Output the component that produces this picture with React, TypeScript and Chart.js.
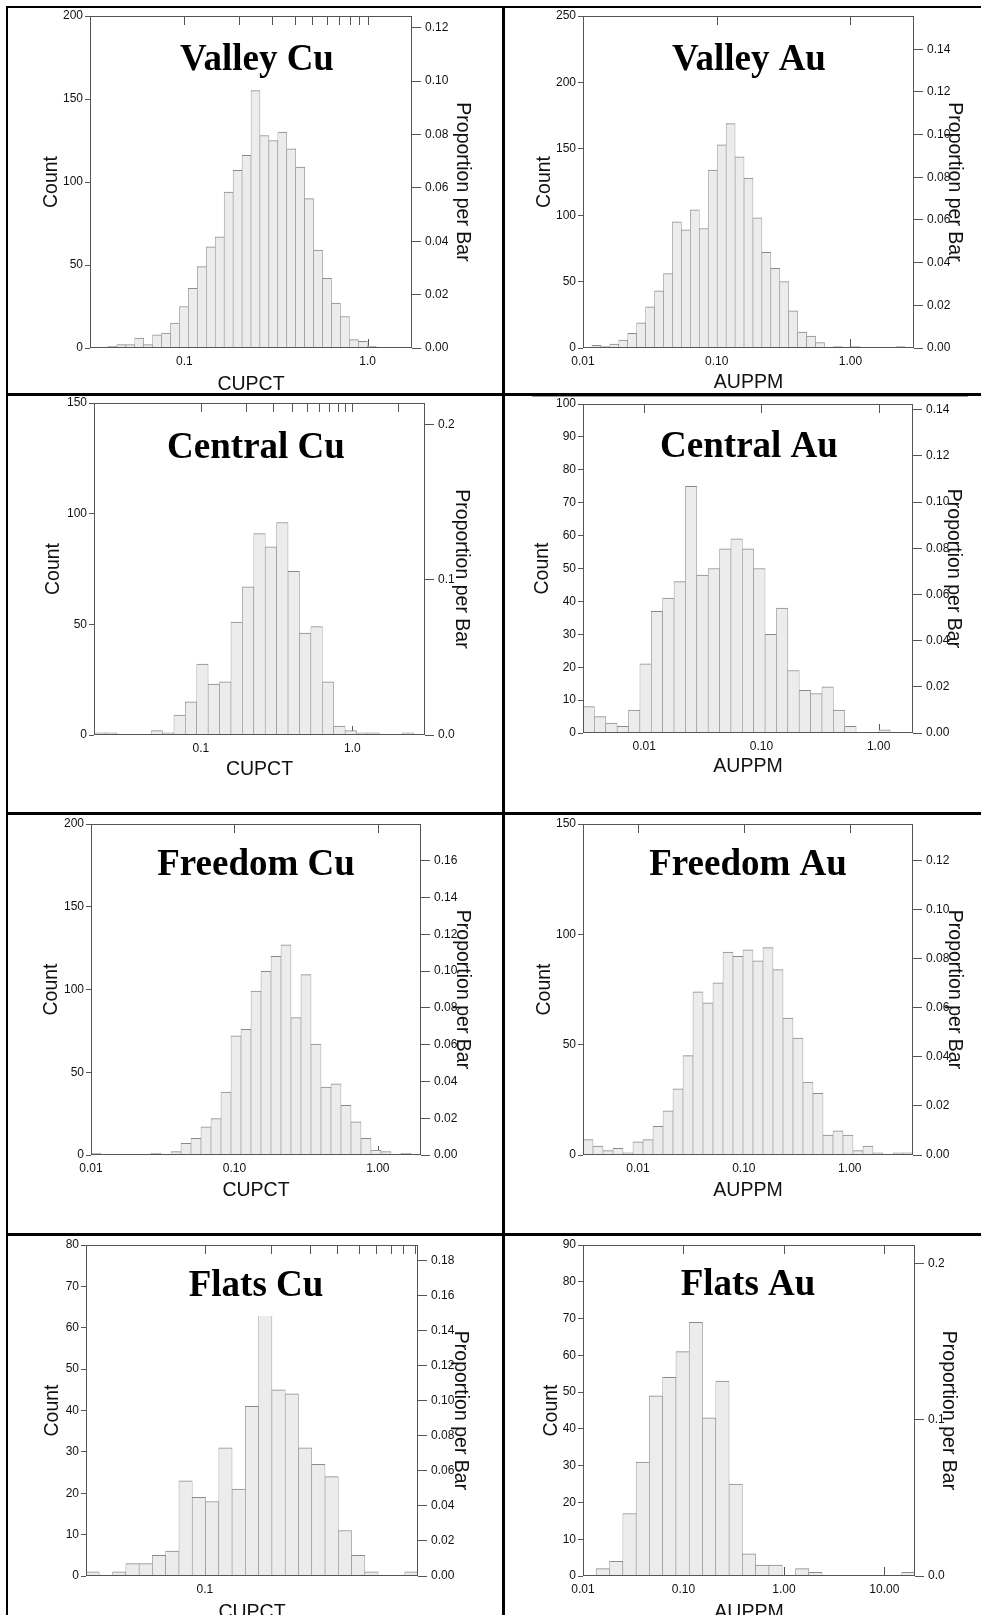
import React, { useEffect, useRef } from 'react';
import { Chart, registerables } from 'chart.js';

Chart.register(...registerables);

// ---------------- data ----------------
// Valley Cu
const valleyCuCounts = [0, 0, 1, 2, 2, 6, 2, 8, 9, 15, 25, 36, 49, 61, 67, 94, 107, 116, 155, 128, 125, 130, 120, 109, 90, 59, 42, 27, 19, 5, 4, 1, 0, 0, 0, 0];
const valleyCuRange = [0.0306, 1.745];
const valleyCuCountTicks = [0, 50, 100, 150, 200];
const valleyCuPropTicks = [0, 0.02, 0.04, 0.06, 0.08, 0.1, 0.12];
const valleyCuPropMax = 0.1244;
const valleyCuXTicks = [0.1, 1];
const valleyCuXLabels = ['0.1', '1.0'];
const valleyCuTopTicks = [0.1, 0.2, 0.3, 0.4, 0.5, 0.6, 0.7, 0.8, 0.9, 1];

// Valley Au
const valleyAuCounts = [0, 2, 1, 3, 6, 11, 19, 31, 43, 56, 95, 89, 104, 90, 134, 153, 169, 144, 128, 98, 72, 60, 50, 28, 12, 9, 4, 0, 1, 0, 1, 0, 0, 0, 0, 1, 0];
const valleyAuRange = [0.01, 2.99];
const valleyAuCountTicks = [0, 50, 100, 150, 200, 250];
const valleyAuPropTicks = [0, 0.02, 0.04, 0.06, 0.08, 0.1, 0.12, 0.14];
const valleyAuPropMax = 0.1556;
const valleyAuXTicks = [0.01, 0.1, 1];
const valleyAuXLabels = ['0.01', '0.10', '1.00'];
const valleyAuTopTicks = [0.1, 1];

// Central Cu
const centralCuCounts = [1, 1, 0, 0, 0, 2, 1, 9, 15, 32, 23, 24, 51, 67, 91, 85, 96, 74, 46, 49, 24, 4, 2, 1, 1, 0, 0, 1, 0];
const centralCuRange = [0.0197, 3.02];
const centralCuCountTicks = [0, 50, 100, 150];
const centralCuPropTicks = [0, 0.1, 0.2];
const centralCuPropMax = 0.214;
const centralCuXTicks = [0.1, 1];
const centralCuXLabels = ['0.1', '1.0'];
const centralCuTopTicks = [0.1, 0.2, 0.3, 0.4, 0.5, 0.6, 0.7, 0.8, 0.9, 1, 2];

// Central Au
const centralAuCounts = [8, 5, 3, 2, 7, 21, 37, 41, 46, 75, 48, 50, 56, 59, 56, 50, 30, 38, 19, 13, 12, 14, 7, 2, 0, 0, 1, 0, 0];
const centralAuRange = [0.003, 1.965];
const centralAuCountTicks = [0, 10, 20, 30, 40, 50, 60, 70, 80, 90, 100];
const centralAuPropTicks = [0, 0.02, 0.04, 0.06, 0.08, 0.1, 0.12, 0.14];
const centralAuPropMax = 0.1425;
const centralAuXTicks = [0.01, 0.1, 1];
const centralAuXLabels = ['0.01', '0.10', '1.00'];
const centralAuTopTicks = [0.01, 0.1, 1];

// Freedom Cu
const freedomCuCounts = [1, 0, 0, 0, 0, 0, 1, 0, 2, 7, 10, 17, 22, 38, 72, 76, 99, 111, 120, 127, 83, 109, 67, 41, 43, 30, 20, 10, 3, 2, 0, 1, 0];
const freedomCuRange = [0.01, 2.0];
const freedomCuCountTicks = [0, 50, 100, 150, 200];
const freedomCuPropTicks = [0, 0.02, 0.04, 0.06, 0.08, 0.1, 0.12, 0.14, 0.16];
const freedomCuPropMax = 0.18;
const freedomCuXTicks = [0.01, 0.1, 1];
const freedomCuXLabels = ['0.01', '0.10', '1.00'];
const freedomCuTopTicks = [0.1, 1];

// Freedom Au
const freedomAuCounts = [7, 4, 2, 3, 1, 6, 7, 13, 20, 30, 45, 74, 69, 78, 92, 90, 93, 88, 94, 84, 62, 53, 33, 28, 9, 11, 9, 2, 4, 1, 0, 1, 1];
const freedomAuRange = [0.00303, 3.95];
const freedomAuCountTicks = [0, 50, 100, 150];
const freedomAuPropTicks = [0, 0.02, 0.04, 0.06, 0.08, 0.1, 0.12];
const freedomAuPropMax = 0.135;
const freedomAuXTicks = [0.01, 0.1, 1];
const freedomAuXLabels = ['0.01', '0.10', '1.00'];
const freedomAuTopTicks = [0.01, 0.1, 1];

// Flats Cu
const flatsCuCounts = [1, 0, 1, 3, 3, 5, 6, 23, 19, 18, 31, 21, 41, 66, 45, 44, 31, 27, 24, 11, 5, 1, 0, 0, 1];
const flatsCuRange = [0.0288, 0.932];
const flatsCuCountTicks = [0, 10, 20, 30, 40, 50, 60, 70, 80];
const flatsCuPropTicks = [0, 0.02, 0.04, 0.06, 0.08, 0.1, 0.12, 0.14, 0.16, 0.18];
const flatsCuPropMax = 0.189;
const flatsCuXTicks = [0.1];
const flatsCuXLabels = ['0.1'];
const flatsCuTopTicks = [0.1, 0.2, 0.3, 0.4, 0.5, 0.6, 0.7, 0.8, 0.9];

// Flats Au
const flatsAuCounts = [0, 2, 4, 17, 31, 49, 54, 61, 69, 43, 53, 25, 6, 3, 3, 0, 2, 1, 0, 0, 0, 0, 0, 0, 1];
const flatsAuRange = [0.01, 20.2];
const flatsAuCountTicks = [0, 10, 20, 30, 40, 50, 60, 70, 80, 90];
const flatsAuPropTicks = [0, 0.1, 0.2];
const flatsAuPropMax = 0.2117;
const flatsAuXTicks = [0.01, 0.1, 1, 10];
const flatsAuXLabels = ['0.01', '0.10', '1.00', '10.00'];
const flatsAuTopTicks = [0.1, 1, 10];

// ---------------- styles ----------------
const SANS = '"Liberation Sans", Arial, Helvetica, sans-serif';
const SERIF = '"Liberation Serif", "Times New Roman", serif';
const FRAME = '#555555';
const TEXT = '#111111';
const BAR_FILL = '#ececec';
const BAR_EDGE = '#8a8a8a';
const TICK_SIZE = 12;
const AXIS_TITLE_SIZE = 19.5;

type PanelCfg = {
  id: string;
  title: string;
  xTitle: string;
  counts: number[];
  range: number[];
  countTicks: number[];
  propTicks: number[];
  propMax: number;
  propDec: number;
  xTicks: number[];
  xLabels: string[];
  topTicks: number[];
  cell: number[]; // x, y, w, h
  box: number[]; // left axis w, right axis w, top pad, bottom axis h
  countX: number;
  propX: number;
  xTitleD: number;
  titlePos: number[];
  cover: boolean;
};

const panels: PanelCfg[] = [
  { id: 'vcu', title: 'Valley Cu', xTitle: 'CUPCT', counts: valleyCuCounts, range: valleyCuRange, countTicks: valleyCuCountTicks, propTicks: valleyCuPropTicks, propMax: valleyCuPropMax, propDec: 2, xTicks: valleyCuXTicks, xLabels: valleyCuXLabels, topTicks: valleyCuTopTicks,
    cell: [8, 8, 494, 385], box: [82, 90, 8, 45], countX: 44, propX: 40, xTitleD: 8.5, titlePos: [249, 62], cover: false },
  { id: 'vau', title: 'Valley Au', xTitle: 'AUPPM', counts: valleyAuCounts, range: valleyAuRange, countTicks: valleyAuCountTicks, propTicks: valleyAuPropTicks, propMax: valleyAuPropMax, propDec: 2, xTicks: valleyAuXTicks, xLabels: valleyAuXLabels, topTicks: valleyAuTopTicks,
    cell: [505, 8, 476, 385], box: [78, 67, 8, 45], countX: 40, propX: 27, xTitleD: 10.5, titlePos: [244, 62], cover: false },
  { id: 'ccu', title: 'Central Cu', xTitle: 'CUPCT', counts: centralCuCounts, range: centralCuRange, countTicks: centralCuCountTicks, propTicks: centralCuPropTicks, propMax: centralCuPropMax, propDec: 1, xTicks: centralCuXTicks, xLabels: centralCuXLabels, topTicks: centralCuTopTicks,
    cell: [8, 396, 494, 416], box: [86, 77, 7, 77], countX: 46, propX: 41, xTitleD: 42, titlePos: [248, 62], cover: false },
  { id: 'cau', title: 'Central Au', xTitle: 'AUPPM', counts: centralAuCounts, range: centralAuRange, countTicks: centralAuCountTicks, propTicks: centralAuPropTicks, propMax: centralAuPropMax, propDec: 2, xTicks: centralAuXTicks, xLabels: centralAuXLabels, topTicks: centralAuTopTicks,
    cell: [505, 396, 476, 416], box: [78, 68, 8, 79], countX: 38, propX: 28, xTitleD: 45, titlePos: [244, 61], cover: false },
  { id: 'fcu', title: 'Freedom Cu', xTitle: 'CUPCT', counts: freedomCuCounts, range: freedomCuRange, countTicks: freedomCuCountTicks, propTicks: freedomCuPropTicks, propMax: freedomCuPropMax, propDec: 2, xTicks: freedomCuXTicks, xLabels: freedomCuXLabels, topTicks: freedomCuTopTicks,
    cell: [8, 815, 494, 418], box: [83, 81, 9, 78], countX: 44, propX: 40, xTitleD: 42, titlePos: [248, 60], cover: false },
  { id: 'fau', title: 'Freedom Au', xTitle: 'AUPPM', counts: freedomAuCounts, range: freedomAuRange, countTicks: freedomAuCountTicks, propTicks: freedomAuPropTicks, propMax: freedomAuPropMax, propDec: 2, xTicks: freedomAuXTicks, xLabels: freedomAuXLabels, topTicks: freedomAuTopTicks,
    cell: [505, 815, 476, 418], box: [78, 68, 9, 78], countX: 40, propX: 27, xTitleD: 42, titlePos: [243, 60], cover: false },
  { id: 'flcu', title: 'Flats Cu', xTitle: 'CUPCT', counts: flatsCuCounts, range: flatsCuRange, countTicks: flatsCuCountTicks, propTicks: flatsCuPropTicks, propMax: flatsCuPropMax, propDec: 2, xTicks: flatsCuXTicks, xLabels: flatsCuXLabels, topTicks: flatsCuTopTicks,
    cell: [8, 1236, 494, 420], box: [78, 84, 9, 80], countX: 45, propX: 42, xTitleD: 43.5, titlePos: [248, 60], cover: true },
  { id: 'flau', title: 'Flats Au', xTitle: 'AUPPM', counts: flatsAuCounts, range: flatsAuRange, countTicks: flatsAuCountTicks, propTicks: flatsAuPropTicks, propMax: flatsAuPropMax, propDec: 1, xTicks: flatsAuXTicks, xLabels: flatsAuXLabels, topTicks: flatsAuTopTicks,
    cell: [505, 1236, 476, 420], box: [78, 66, 9, 80], countX: 47, propX: 33, xTitleD: 43, titlePos: [243, 59], cover: false },
];

// ---------------- plugin: frame, inward ticks, panel title ----------------
const decoPlugin = {
  id: 'panelDeco',
  beforeDatasetsDraw(chart: any, _args: any, o: any) {
    const { ctx, chartArea: a } = chart;
    const s = chart.scales.xb;
    ctx.save();
    ctx.strokeStyle = FRAME;
    ctx.lineWidth = 1;
    ctx.beginPath();
    for (const v of o.bottomTicks) {
      const x = Math.round(s.getPixelForValue(v)) + 0.5;
      ctx.moveTo(x, a.bottom);
      ctx.lineTo(x, a.bottom - 9);
    }
    ctx.stroke();
    ctx.restore();
  },
  afterDatasetsDraw(chart: any, _args: any, o: any) {
    const { ctx, chartArea: a } = chart;
    const s = chart.scales.xb;
    ctx.save();
    ctx.font = `bold 37px ${SERIF}`;
    const w = ctx.measureText(o.title).width;
    if (o.cover) {
      ctx.fillStyle = '#ffffff';
      ctx.fillRect(o.titleX - w / 2 - 8, o.titleY - 36, w + 16, 56);
    }
    ctx.fillStyle = '#000000';
    ctx.textAlign = 'center';
    ctx.textBaseline = 'alphabetic';
    ctx.fillText(o.title, o.titleX, o.titleY);

    ctx.strokeStyle = FRAME;
    ctx.lineWidth = 1;
    ctx.strokeRect(a.left + 0.5, a.top + 0.5, a.right - a.left - 1, a.bottom - a.top - 1);
    ctx.beginPath();
    for (const v of o.topTicks) {
      const x = Math.round(s.getPixelForValue(v)) + 0.5;
      ctx.moveTo(x, a.top);
      ctx.lineTo(x, a.top + 9);
    }
    ctx.stroke();
    ctx.restore();
  },
};

function makeConfig(p: PanelCfg): any {
  const [L, R, T, B] = p.box;
  const lh = AXIS_TITLE_SIZE * 1.2;
  const tickFont = { family: SANS, size: TICK_SIZE };
  const titleFont = { family: SANS, size: AXIS_TITLE_SIZE };
  const fixW = (w: number) => (sc: any) => {
    sc.width = w;
    sc.paddingTop = 0; sc.paddingBottom = 0; sc.paddingLeft = 0; sc.paddingRight = 0;
  };
  const fixH = (h: number) => (sc: any) => {
    sc.height = h;
    sc.paddingTop = 0; sc.paddingBottom = 0; sc.paddingLeft = 0; sc.paddingRight = 0;
  };
  return {
    type: 'bar',
    data: {
      labels: p.counts.map((_, i) => `${i + 1}`),
      datasets: [
        {
          data: p.counts,
          backgroundColor: BAR_FILL,
          borderColor: BAR_EDGE,
          borderWidth: { top: 1, left: 0.6, right: 0.6, bottom: 0 },
          borderSkipped: false,
          barPercentage: 1,
          categoryPercentage: 1,
          xAxisID: 'x',
          yAxisID: 'y',
        },
      ],
    },
    options: {
      animation: false,
      responsive: false,
      maintainAspectRatio: false,
      events: [],
      layout: { padding: { top: T, left: 0, right: 0, bottom: 0 } },
      plugins: {
        legend: { display: false },
        tooltip: { enabled: false },
        panelDeco: {
          title: p.title,
          titleX: p.titlePos[0],
          titleY: p.titlePos[1],
          cover: p.cover,
          topTicks: p.topTicks,
          bottomTicks: p.xTicks,
        },
      },
      scales: {
        x: { type: 'category', display: false, offset: true, grid: { display: false } },
        xb: {
          type: 'logarithmic',
          position: 'bottom',
          min: p.range[0],
          max: p.range[1],
          bounds: 'data',
          afterBuildTicks: (sc: any) => {
            sc.ticks = p.xTicks.map((v) => ({ value: v }));
          },
          ticks: {
            autoSkip: false,
            maxRotation: 0,
            minRotation: 0,
            padding: 6,
            font: tickFont,
            color: TEXT,
            callback: (_v: any, i: number) => p.xLabels[i],
          },
          grid: { display: false, drawTicks: false },
          border: { display: false },
          title: {
            display: true,
            text: p.xTitle,
            font: titleFont,
            color: TEXT,
            padding: { top: 0, bottom: p.xTitleD - lh / 2 },
          },
          afterFit: fixH(B),
        },
        y: {
          type: 'linear',
          position: 'left',
          min: 0,
          max: p.countTicks[p.countTicks.length - 1],
          afterBuildTicks: (sc: any) => {
            sc.ticks = p.countTicks.map((v) => ({ value: v }));
          },
          ticks: { padding: 2, font: tickFont, color: TEXT, callback: (v: any) => String(v) },
          grid: { drawOnChartArea: false, drawTicks: true, tickLength: 5, color: FRAME, lineWidth: 1 },
          border: { display: false },
          title: {
            display: true,
            text: 'Count',
            font: titleFont,
            color: TEXT,
            padding: { top: p.countX - lh / 2, bottom: 0 },
          },
          afterFit: fixW(L),
        },
        y2: {
          type: 'linear',
          position: 'right',
          min: 0,
          max: p.propMax,
          afterBuildTicks: (sc: any) => {
            sc.ticks = p.propTicks.map((v) => ({ value: v }));
          },
          ticks: {
            padding: 4,
            font: tickFont,
            color: TEXT,
            callback: (v: any) => Number(v).toFixed(p.propDec),
          },
          grid: { drawOnChartArea: false, drawTicks: true, tickLength: 9, color: FRAME, lineWidth: 1 },
          border: { display: false },
          title: {
            display: true,
            text: 'Proportion per Bar',
            font: titleFont,
            color: TEXT,
            padding: { top: p.propX - lh / 2, bottom: 0 },
          },
          afterFit: fixW(R),
        },
      },
    },
    plugins: [decoPlugin],
  };
}

function Panel({ p }: { p: PanelCfg }) {
  const ref = useRef<HTMLCanvasElement | null>(null);
  useEffect(() => {
    if (!ref.current) return;
    const chart = new Chart(ref.current, makeConfig(p));
    return () => chart.destroy();
  }, [p]);
  const [x, y, w, h] = p.cell;
  return (
    <canvas
      ref={ref}
      width={w}
      height={h}
      style={{ position: 'absolute', left: x, top: y, width: w, height: h }}
    />
  );
}

const line = (left: number, top: number, width: number, height: number, color = '#000') => (
  <div style={{ position: 'absolute', left, top, width, height, background: color }} />
);

export default function App() {
  return (
    <div
      style={{
        position: 'absolute',
        left: 0,
        top: 0,
        width: 981,
        height: 1615,
        overflow: 'hidden',
        background: '#ffffff',
      }}
    >
      {panels.map((p) => (
        <Panel key={p.id} p={p} />
      ))}
      {line(6, 6, 975, 2)}
      {line(6, 6, 2, 1609)}
      {line(502, 6, 3, 1609)}
      {line(6, 393, 975, 3)}
      {line(6, 812, 975, 3)}
      {line(6, 1233, 975, 3)}
      {line(532, 396, 436, 1, '#9a9a9a')}
    </div>
  );
}
